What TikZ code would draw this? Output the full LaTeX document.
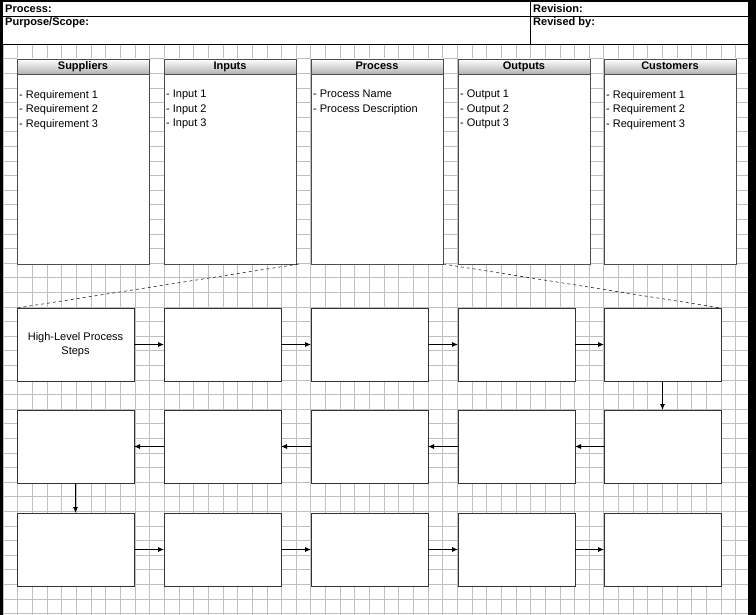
\documentclass[tikz,border=0pt]{standalone}
\usepackage{fontspec}
\setmainfont{Liberation Sans}
\usetikzlibrary{arrows.meta}
\colorlet{gridline}{black!25}
\colorlet{headtop}{white}
\colorlet{headbot}{black!30}
\newcommand{\itemtext}[1]{\fontsize{11}{14.5}\selectfont #1}

\begin{document}
\begin{tikzpicture}[x=1pt,y=-1pt,
	sipoc/.style={draw=black!70,fill=white,line width=0.8pt,minimum width=132pt,minimum height=205pt,anchor=north west,outer sep=0pt},
	sipochead/.style={draw=black!70,top color=headtop,bottom color=headbot,line width=0.8pt,minimum width=132pt,minimum height=15pt,anchor=north west,inner sep=0pt,font=\fontsize{11}{12}\selectfont\bfseries,text height=8pt,text depth=2pt,outer sep=0pt},
	items/.style={anchor=north west,align=left,inner sep=1pt,font=\itemtext{}},
	stepbox/.style={draw=black!80,fill=white,line width=0.7pt,minimum width=117pt,minimum height=73pt,anchor=north west,outer sep=0pt,align=center,font=\itemtext{}},
	flow/.style={-{Latex[length=6pt,width=5pt]},line width=0.8pt},
	label/.style={anchor=west,inner sep=0pt,font=\fontsize{11}{12}\selectfont\bfseries}
	]
	\useasboundingbox (0,0) rectangle (756,615);
	% background and grid
	\fill[white] (0,0) rectangle (756,615);
	\draw[gridline,line width=0.4pt,xstep=14.65pt,ystep=14.6pt,shift={(3pt,-44pt)}] (0,0) grid (745,571);
	% frame and header
	\fill[black] (0,0) rectangle (3,615);
	\fill[black] (748,0) rectangle (756,615);
	\fill[black] (0,0) rectangle (756,2);
	\fill[white] (3,2) rectangle (748,44);
	\draw[black,line width=0.8pt] (3,16) -- (748,16) (3,44) -- (748,44) (530,2) -- (530,44);
	\node[label] (process) at (5,9) {Process:};
	\node[label] (purpose) at (5,23) {Purpose/Scope:};
	\node[label] (revision) at (533,9) {Revision:};
	\node[label] (revised) at (533,23) {Revised by:};
	% SIPOC columns
	\foreach \name/\x/\title/\a/\b/\c in {sup/17/Suppliers/Requirement 1/Requirement 2/Requirement 3,
		inp/164/Inputs/Input 1/Input 2/Input 3,
		pro/311/Process/Process Name/Process Description/,
		out/458/Outputs/Output 1/Output 2/Output 3,
		cus/604/Customers/Requirement 1/Requirement 2/Requirement 3}{
		\node[sipoc] (\name) at (\x,59) {};
		\node[sipochead] (\name-head) at (\x,59) {\title};
		\node[items] (\name-text) at (\x+1,89) {- \a\\- \b\ifx\c\empty\else\\- \c\fi};
	}
	% zoom lines
	\draw[dashed,line width=0.5pt] (pro.south west) ++(-12,0) coordinate (zl) -- (17,308);
	\draw[dashed,line width=0.5pt] (pro.south east) -- (721,308);
	% process steps
	\foreach \r/\y in {1/308,2/410,3/513}{
		\foreach \c/\x in {1/17,2/164,3/311,4/458,5/604}{
			\node[stepbox] (s\r\c) at (\x,\y) {};
		}
	}
	\node[align=center,font=\itemtext{}] at (s11.center) {High-Level Process\\Steps};
	\foreach \a/\b in {1/2,2/3,3/4,4/5}{
		\draw[flow] (s1\a.east) -- (s1\b.west);
		\draw[flow] (s2\b.west) -- (s2\a.east);
		\draw[flow] (s3\a.east) -- (s3\b.west);
	}
	\draw[flow] (s15.south) -- (s25.north);
	\draw[flow] (s21.south) -- (s31.north);
\end{tikzpicture}
\end{document}
